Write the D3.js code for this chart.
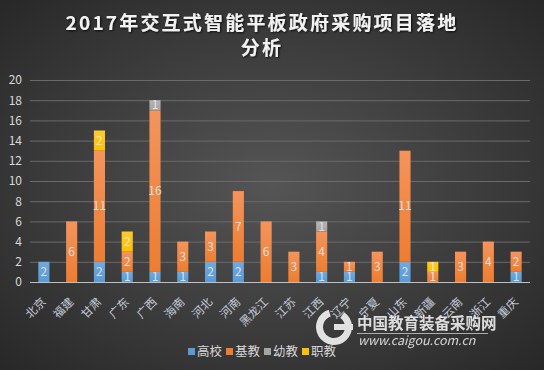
<!DOCTYPE html>
<html>
<head>
<meta charset="utf-8">
<script src="https://cdn.jsdelivr.net/npm/d3@7"></script>
<style>
body { margin: 0; background: #333; }
svg text { font-family: "Noto Sans CJK SC", "Noto Sans", sans-serif; }
</style>
</head>
<body>
<div id="chart"></div>
<script>
var width = 544,
	height = 370;

var provinces = ['北京', '福建', '甘肃', '广东', '广西', '海南', '河北', '河南', '黑龙江',
	'江苏', '江西', '辽宁', '宁夏', '山东', '新疆', '云南', '浙江', '重庆'];
var seriesNames = ['高校', '基教', '幼教', '职教'];
var gaoxiao = [2, 0, 2, 1, 1, 1, 2, 2, 0, 0, 1, 1, 0, 2, 0, 0, 0, 1];
var jijiao  = [0, 6, 11, 2, 16, 3, 3, 7, 6, 3, 4, 1, 3, 11, 1, 3, 4, 2];
var youjiao = [0, 0, 0, 0, 1, 0, 0, 0, 0, 0, 1, 0, 0, 0, 0, 0, 0, 0];
var zhijiao = [0, 0, 2, 2, 0, 0, 0, 0, 0, 0, 0, 0, 0, 0, 1, 0, 0, 0];
var yTicks = [0, 2, 4, 6, 8, 10, 12, 14, 16, 18, 20];

var colors = ['#5b9bd5', '#ed7d31', '#a5a5a5', '#ffc000'];
var lightColors = ['#6fa9df', '#f4945c', '#b4b4b4', '#ffca2a'];

var table = provinces.map(function(p, i) {
	return { name: p, '高校': gaoxiao[i], '基教': jijiao[i], '幼教': youjiao[i], '职教': zhijiao[i] };
});
var stacked = d3.stack().keys(seriesNames)(table);

var margin = { left: 30, right: 14, top: 80, bottom: 88 };

var svg = d3.select('#chart')
	.append('svg')
	.attr('width', width)
	.attr('height', height);

var defs = svg.append('defs');
var bg = defs.append('radialGradient')
	.attr('id', 'bg')
	.attr('cx', '50%').attr('cy', '50%').attr('r', '70%');
bg.append('stop').attr('offset', '0%').attr('stop-color', '#555555');
bg.append('stop').attr('offset', '100%').attr('stop-color', '#282828');

colors.forEach(function(c, i) {
	var g = defs.append('linearGradient')
		.attr('id', 'grad' + i)
		.attr('x1', 0).attr('y1', 0).attr('x2', 0).attr('y2', 1);
	g.append('stop').attr('offset', '0%').attr('stop-color', lightColors[i]);
	g.append('stop').attr('offset', '100%').attr('stop-color', c);
});

var shadow = defs.append('filter').attr('id', 'shadow');
shadow.append('feDropShadow')
	.attr('dx', 1).attr('dy', 1).attr('stdDeviation', 1)
	.attr('flood-color', '#000').attr('flood-opacity', 0.8);

svg.append('rect')
	.attr('width', width)
	.attr('height', height)
	.attr('fill', 'url(#bg)');

// title
var title = svg.append('text')
	.attr('text-anchor', 'middle')
	.attr('fill', '#f2f2f2')
	.attr('font-size', 19)
	.attr('font-weight', 'bold')
	.attr('letter-spacing', 2.2)
	.attr('filter', 'url(#shadow)');
title.append('tspan').attr('x', 262).attr('y', 30).text('2017年交互式智能平板政府采购项目落地');
title.append('tspan').attr('x', 262).attr('y', 55).text('分析');

var x = d3.scaleBand()
	.domain(provinces)
	.range([margin.left, width - margin.right])
	.paddingInner(0.6)
	.paddingOuter(0.3);

var y = d3.scaleLinear()
	.domain([0, 20])
	.range([282, 80]);

// grid
svg.append('g')
	.selectAll('line')
	.data(yTicks.slice(1))
	.join('line')
	.attr('x1', margin.left)
	.attr('x2', width - margin.right)
	.attr('y1', function(d) { return y(d) + 0.5; })
	.attr('y2', function(d) { return y(d) + 0.5; })
	.attr('stroke', '#6a6a6a')
	.attr('stroke-width', 1);

var yAxis = svg.append('g')
	.attr('transform', 'translate(' + margin.left + ',0)')
	.call(d3.axisLeft(y).tickValues(yTicks).tickSize(0).tickPadding(8));
yAxis.select('.domain').remove();
yAxis.selectAll('text')
	.attr('fill', '#d9d9d9')
	.attr('font-size', 12)
	.attr('font-family', '"Noto Sans", sans-serif');

// bars
var layers = svg.append('g')
	.selectAll('g')
	.data(stacked)
	.join('g')
	.attr('fill', function(d, i) { return 'url(#grad' + i + ')'; });

layers.selectAll('rect')
	.data(function(d) { return d; })
	.join('rect')
	.attr('x', function(d) { return x(d.data.name); })
	.attr('y', function(d) { return y(d[1]); })
	.attr('width', x.bandwidth())
	.attr('height', function(d) { return y(d[0]) - y(d[1]); });

layers.selectAll('text')
	.data(function(d) { return d.filter(function(v) { return v[1] - v[0] > 0; }); })
	.join('text')
	.attr('x', function(d) { return x(d.data.name) + x.bandwidth() / 2; })
	.attr('y', function(d) { return (y(d[0]) + y(d[1])) / 2; })
	.attr('dy', '0.35em')
	.attr('text-anchor', 'middle')
	.attr('fill', '#eeeeee')
	.attr('fill-opacity', 0.85)
	.attr('font-size', 12)
	.text(function(d) { return d[1] - d[0]; });

// x axis
svg.append('line')
	.attr('x1', margin.left)
	.attr('x2', width - margin.right)
	.attr('y1', 282.5)
	.attr('y2', 282.5)
	.attr('stroke', '#bfbfbf');

svg.append('g')
	.selectAll('text')
	.data(provinces)
	.join('text')
	.attr('transform', function(d) {
		return 'translate(' + (x(d) + x.bandwidth() / 2 - 3) + ',297) rotate(-45)';
	})
	.attr('text-anchor', 'end')
	.attr('dy', '0.7em')
	.attr('fill', '#c4cbdb')
	.attr('font-size', 11.5)
	.text(function(d) { return d; });

// watermark
var wm = svg.append('g').attr('opacity', 0.9);
wm.append('path')
	.attr('d', d3.arc()({ innerRadius: 11, outerRadius: 18, startAngle: 0.6, endAngle: 2 * Math.PI - 0.3 }))
	.attr('transform', 'translate(334,327)')
	.attr('fill', '#f4f4f4');
wm.append('rect')
	.attr('x', 334).attr('y', 324).attr('width', 19).attr('height', 6)
	.attr('fill', '#f4f4f4');
wm.append('text')
	.attr('x', 357).attr('y', 329)
	.attr('fill', '#f0f0f0')
	.attr('font-size', 15.5)
	.attr('font-weight', 'bold')
	.text('中国教育装备采购网');
wm.append('line')
	.attr('x1', 357).attr('x2', 488).attr('y1', 333.5).attr('y2', 333.5)
	.attr('stroke', '#bbbbbb');
wm.append('text')
	.attr('x', 358).attr('y', 345)
	.attr('fill', '#e8e8e8')
	.attr('font-size', 12.5)
	.attr('font-style', 'italic')
	.attr('font-family', '"DejaVu Sans", sans-serif')
	.text('www.caigou.com.cn');

// legend
var legendX = [188, 226, 264, 302];
var legend = svg.append('g')
	.selectAll('g')
	.data(seriesNames)
	.join('g')
	.attr('transform', function(d, i) { return 'translate(' + legendX[i] + ',348)'; });
legend.append('rect')
	.attr('width', 7).attr('height', 7)
	.attr('fill', function(d, i) { return colors[i]; });
legend.append('text')
	.attr('x', 9).attr('y', 4)
	.attr('dy', '0.35em')
	.attr('fill', '#d9d9d9')
	.attr('font-size', 12.5)
	.text(function(d) { return d; });
</script>
</body>
</html>
